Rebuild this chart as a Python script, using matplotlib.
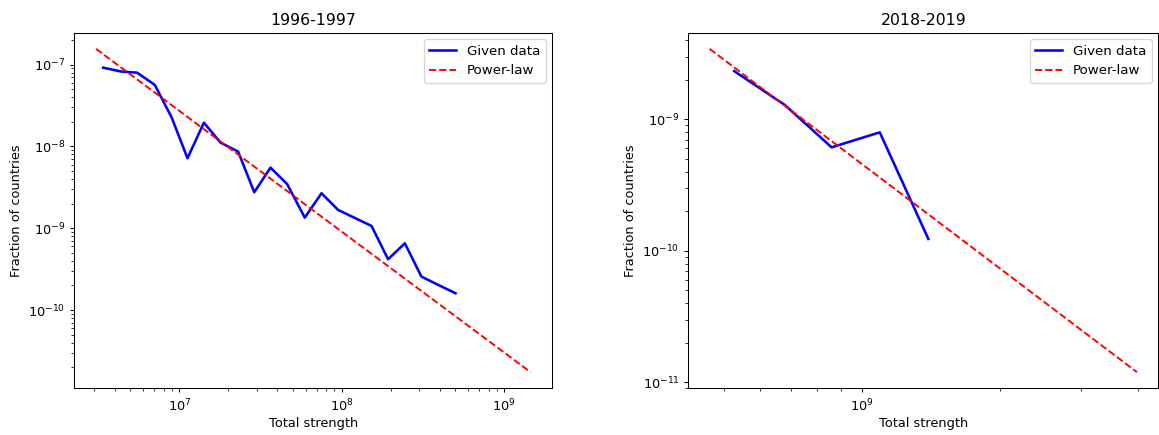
import numpy as np
import matplotlib
matplotlib.use("Agg")
import matplotlib.pyplot as plt
from matplotlib.ticker import NullFormatter

# ---- Data: 1996-1997 ----
x_9697 = [10**v for v in [6.531, 6.644, 6.740, 6.849, 6.952, 7.050, 7.151, 7.253, 7.362, 7.461,
                          7.561, 7.663, 7.772, 7.875, 7.977, 8.080, 8.183, 8.285, 8.388, 8.490,
                          8.594, 8.700]]
y_9697 = [10**v for v in [-7.037, -7.085, -7.098, -7.248, -7.643, -8.144, -7.709, -7.953, -8.063, -8.560,
                          -8.259, -8.459, -8.870, -8.572, -8.776, -8.874, -8.972, -9.379, -9.184, -9.591,
                          -9.693, -9.795]]
fit_x_9697 = [10**6.487, 10**9.162]
fit_y_9697 = [10**-6.807, 10**-10.759]

# ---- Data: 2018-2019 ----
x_1819 = [10**v for v in [8.7215, 8.832, 8.934, 9.039, 9.145]]
y_1819 = [10**v for v in [-8.633, -8.891, -9.213, -9.099, -9.910]]
fit_x_1819 = [10**8.668, 10**9.600]
fit_y_1819 = [10**-8.464, 10**-10.923]

titles = ["1996-1997", "2018-2019"]

DPI = 92.5
W, H = 1159, 435
fig = plt.figure(figsize=(W / DPI, H / DPI), dpi=DPI)
ax1 = fig.add_axes([74.3/W, (H-388.3)/H, 478/W, 355.6/H])
ax2 = fig.add_axes([688.3/W, (H-388.3)/H, 470/W, 355.6/H])

for ax, xd, yd, fx, fy, t in [(ax1, x_9697, y_9697, fit_x_9697, fit_y_9697, titles[0]),
                              (ax2, x_1819, y_1819, fit_x_1819, fit_y_1819, titles[1])]:
    ax.plot(xd, yd, color="blue", lw=2, label="Given data")
    ax.plot(fx, fy, color="red", ls="--", lw=1.5, label="Power-law")
    ax.set_xscale("log")
    ax.set_yscale("log")
    ax.xaxis.set_minor_formatter(NullFormatter())
    ax.yaxis.set_minor_formatter(NullFormatter())
    ax.set_title(t, fontsize=12.3)
    ax.set_xlabel("Total strength", labelpad=2.5)
    ax.set_ylabel("Fraction of countries")
    ax.legend(loc="upper right", fontsize=10.4)

fig.savefig("out.png", dpi=DPI)
